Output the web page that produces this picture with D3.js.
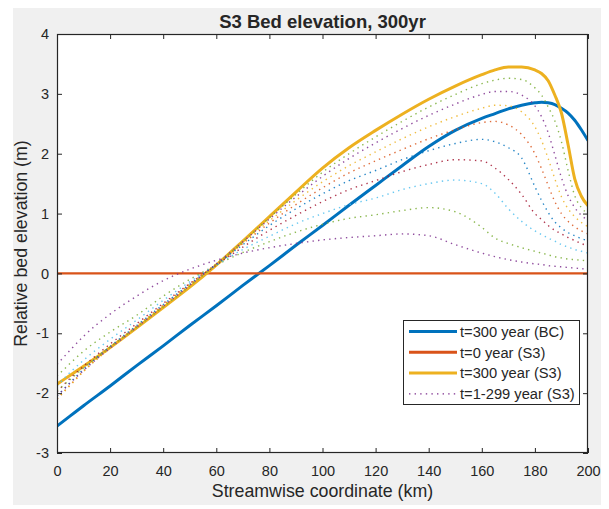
<!DOCTYPE html>
<html>
<head>
<meta charset="utf-8">
<script src="https://cdn.jsdelivr.net/npm/d3@7"></script>
<style>
  body { margin: 0; background: #ffffff; }
  svg { display: block; }
  text { font-family: "Liberation Sans", Arial, Helvetica, sans-serif; fill: #262626; }
</style>
</head>
<body>
<svg id="chart" width="609" height="509"></svg>
<script>
// Streamwise coordinate of the profile nodes (km)
const km = [0, 5, 10, 20, 30, 40, 50, 60, 70, 80, 90, 100, 110, 120, 130, 140, 150, 160, 165, 170, 175, 180, 182.5, 185, 187.5, 190, 192.5, 195, 197.5, 200];

// Relative bed elevation (m) at each node
const bedBC300 = [-2.55, -2.38, -2.21, -1.88, -1.54, -1.21, -0.87, -0.54, -0.20, 0.13, 0.47, 0.80, 1.14, 1.47, 1.80, 2.12, 2.39, 2.59, 2.67, 2.75, 2.81, 2.85, 2.86, 2.85, 2.82, 2.76, 2.68, 2.56, 2.40, 2.22];
const bedS3t0 = [0, 0, 0, 0, 0, 0, 0, 0, 0, 0, 0, 0, 0, 0, 0, 0, 0, 0, 0, 0, 0, 0, 0, 0, 0, 0, 0, 0, 0, 0];
const bedS3t300 = [-1.85, -1.70, -1.55, -1.24, -0.91, -0.57, -0.23, 0.14, 0.54, 0.95, 1.36, 1.76, 2.10, 2.39, 2.66, 2.91, 3.13, 3.32, 3.40, 3.45, 3.45, 3.40, 3.34, 3.22, 2.98, 2.68, 2.15, 1.58, 1.29, 1.13];

// Intermediate S3 profiles, every 30 years
const bedS3t30  = [-1.52, -1.28, -1.05, -0.68, -0.38, -0.12, 0.07, 0.22, 0.34, 0.43, 0.50, 0.56, 0.60, 0.63, 0.66, 0.63, 0.48, 0.34, 0.28, 0.23, 0.19, 0.16, 0.15, 0.13, 0.12, 0.11, 0.10, 0.09, 0.08, 0.07];
const bedS3t60  = [-1.72, -1.50, -1.30, -0.98, -0.70, -0.38, -0.10, 0.14, 0.35, 0.53, 0.69, 0.82, 0.92, 0.98, 1.05, 1.10, 1.03, 0.77, 0.59, 0.50, 0.43, 0.37, 0.34, 0.31, 0.28, 0.26, 0.24, 0.23, 0.22, 0.21];
const bedS3t90  = [-1.88, -1.65, -1.45, -1.10, -0.78, -0.45, -0.14, 0.14, 0.40, 0.62, 0.83, 1.00, 1.15, 1.26, 1.40, 1.50, 1.56, 1.50, 1.34, 1.08, 0.87, 0.71, 0.65, 0.59, 0.54, 0.48, 0.44, 0.40, 0.37, 0.34];
const bedS3t120 = [-1.98, -1.75, -1.55, -1.18, -0.84, -0.50, -0.17, 0.14, 0.44, 0.72, 0.97, 1.20, 1.40, 1.55, 1.70, 1.82, 1.90, 1.88, 1.76, 1.57, 1.32, 1.00, 0.90, 0.80, 0.72, 0.66, 0.60, 0.55, 0.50, 0.46];
const bedS3t150 = [-2.05, -1.82, -1.60, -1.22, -0.87, -0.52, -0.18, 0.15, 0.48, 0.80, 1.08, 1.33, 1.55, 1.72, 1.90, 2.05, 2.17, 2.24, 2.20, 2.10, 1.93, 1.45, 1.22, 1.02, 0.86, 0.76, 0.68, 0.63, 0.58, 0.55];
const bedS3t180 = [-2.10, -1.86, -1.63, -1.24, -0.88, -0.53, -0.18, 0.16, 0.50, 0.84, 1.15, 1.43, 1.68, 1.88, 2.07, 2.25, 2.40, 2.52, 2.54, 2.48, 2.32, 2.00, 1.75, 1.47, 1.20, 1.00, 0.87, 0.78, 0.71, 0.66];
const bedS3t210 = [-2.10, -1.87, -1.64, -1.25, -0.89, -0.54, -0.19, 0.16, 0.52, 0.88, 1.22, 1.53, 1.80, 2.03, 2.25, 2.45, 2.62, 2.76, 2.81, 2.80, 2.70, 2.45, 2.22, 1.92, 1.58, 1.28, 1.08, 0.95, 0.85, 0.78];
const bedS3t240 = [-2.05, -1.83, -1.62, -1.25, -0.90, -0.55, -0.20, 0.16, 0.53, 0.91, 1.28, 1.62, 1.92, 2.18, 2.42, 2.64, 2.83, 2.99, 3.04, 3.04, 2.98, 2.80, 2.62, 2.35, 1.98, 1.60, 1.30, 1.10, 0.97, 0.89];
const bedS3t270 = [-1.96, -1.77, -1.58, -1.23, -0.90, -0.56, -0.21, 0.15, 0.53, 0.93, 1.32, 1.69, 2.00, 2.28, 2.54, 2.78, 2.99, 3.17, 3.23, 3.26, 3.24, 3.10, 2.98, 2.78, 2.55, 2.20, 1.72, 1.30, 1.10, 1.00];

const xTicks = [0, 20, 40, 60, 80, 100, 120, 140, 160, 180, 200];
const yTicks = [-3, -2, -1, 0, 1, 2, 3, 4];
const legendLabels = ["t=300 year (BC)", "t=0 year (S3)", "t=300 year (S3)", "t=1-299 year (S3)"];

// Line colours (default colour order)
const C = {
  blue: "#0072BD", orange: "#D95319", yellow: "#EDB120", purple: "#7E2F8E",
  green: "#77AC30", cyan: "#4DBEEE", red: "#A2142F"
};
const intermediate = [
  { values: bedS3t30,  color: C.purple },
  { values: bedS3t60,  color: C.green },
  { values: bedS3t90,  color: C.cyan },
  { values: bedS3t120, color: C.red },
  { values: bedS3t150, color: C.blue },
  { values: bedS3t180, color: C.orange },
  { values: bedS3t210, color: C.yellow },
  { values: bedS3t240, color: C.purple },
  { values: bedS3t270, color: C.green }
];

const svg = d3.select("#chart");
const plot = { left: 57, right: 588, top: 34, bottom: 453 };

const x = d3.scaleLinear().domain([0, 200]).range([plot.left, plot.right]);
const y = d3.scaleLinear().domain([-3, 4]).range([plot.bottom, plot.top]);

// figure background and axes area
svg.append("rect").attr("x", 13).attr("y", 8).attr("width", 588).attr("height", 497).attr("fill", "#f0f0f0");
svg.append("rect").attr("x", plot.left).attr("y", plot.top)
  .attr("width", plot.right - plot.left).attr("height", plot.bottom - plot.top).attr("fill", "#ffffff");

svg.append("clipPath").attr("id", "plot-clip").append("rect")
  .attr("x", plot.left).attr("y", plot.top)
  .attr("width", plot.right - plot.left).attr("height", plot.bottom - plot.top);

const line = d3.line()
  .x((d, i) => x(km[i]))
  .y(d => y(d))
  .curve(d3.curveMonotoneX);

const g = svg.append("g").attr("clip-path", "url(#plot-clip)");

g.append("path").attr("d", line(bedBC300)).attr("fill", "none").attr("stroke", C.blue).attr("stroke-width", 3);
g.append("path").attr("d", line(bedS3t0)).attr("fill", "none").attr("stroke", C.orange).attr("stroke-width", 2.2);
g.append("path").attr("d", line(bedS3t300)).attr("fill", "none").attr("stroke", C.yellow).attr("stroke-width", 3);

intermediate.forEach(s => {
  g.append("path").attr("d", line(s.values)).attr("fill", "none")
    .attr("stroke", s.color).attr("stroke-width", 1.4)
    .attr("stroke-dasharray", "1.4 4.2").attr("opacity", 0.85);
});

// axes with inward ticks on all four sides
const axisColor = "#262626";
const plain = d => String(d);
function styleAxis(sel) {
  sel.select(".domain").remove();
  sel.selectAll(".tick line").attr("stroke", axisColor).attr("stroke-width", 1);
  sel.selectAll(".tick text").attr("fill", axisColor).style("font-size", "14.5px")
    .style("font-family", "'Liberation Sans', Arial, sans-serif");
}
svg.append("g").attr("transform", `translate(0,${plot.bottom})`)
  .call(d3.axisBottom(x).tickValues(xTicks).tickFormat(plain).tickSize(-5).tickSizeOuter(0).tickPadding(13))
  .call(styleAxis);
svg.append("g").attr("transform", `translate(0,${plot.top})`)
  .call(d3.axisTop(x).tickValues(xTicks).tickSize(-5).tickSizeOuter(0).tickFormat(""))
  .call(styleAxis);
svg.append("g").attr("transform", `translate(${plot.left},0)`)
  .call(d3.axisLeft(y).tickValues(yTicks).tickFormat(plain).tickSize(-5).tickSizeOuter(0).tickPadding(8))
  .call(styleAxis);
svg.append("g").attr("transform", `translate(${plot.right},0)`)
  .call(d3.axisRight(y).tickValues(yTicks).tickSize(-5).tickSizeOuter(0).tickFormat(""))
  .call(styleAxis);

svg.append("rect").attr("x", plot.left + 0.5).attr("y", plot.top + 0.5)
  .attr("width", plot.right - plot.left - 1).attr("height", plot.bottom - plot.top - 1)
  .attr("fill", "none").attr("stroke", axisColor).attr("stroke-width", 1.2);

// title and axis labels
svg.append("text").attr("x", (plot.left + plot.right) / 2).attr("y", 28)
  .attr("text-anchor", "middle").style("font-size", "18.5px").style("font-weight", "bold")
  .attr("fill", "#000").text("S3 Bed elevation, 300yr");
svg.append("text").attr("x", (plot.left + plot.right) / 2).attr("y", 497)
  .attr("text-anchor", "middle").style("font-size", "17.8px")
  .text("Streamwise coordinate (km)");
svg.append("text").attr("transform", `translate(27,${(plot.top + plot.bottom) / 2}) rotate(-90)`)
  .attr("text-anchor", "middle").style("font-size", "17.8px")
  .text("Relative bed elevation (m)");

// legend
const legendStyles = [
  { color: C.blue, width: 3, dash: null },
  { color: C.orange, width: 3, dash: null },
  { color: C.yellow, width: 3, dash: null },
  { color: C.purple, width: 1.4, dash: "1.4 4.2" }
];
const lg = svg.append("g");
lg.append("rect").attr("x", 403.5).attr("y", 320.5).attr("width", 176).attr("height", 84)
  .attr("fill", "#ffffff").attr("stroke", axisColor).attr("stroke-width", 1);
legendLabels.forEach((label, i) => {
  const cy = 331.5 + i * 20.8;
  const st = legendStyles[i];
  lg.append("line").attr("x1", 409).attr("x2", 457).attr("y1", cy).attr("y2", cy)
    .attr("stroke", st.color).attr("stroke-width", st.width)
    .attr("stroke-dasharray", st.dash);
  lg.append("text").attr("x", 460).attr("y", cy + 5.2).style("font-size", "14.7px").text(label);
});
</script>
</body>
</html>
